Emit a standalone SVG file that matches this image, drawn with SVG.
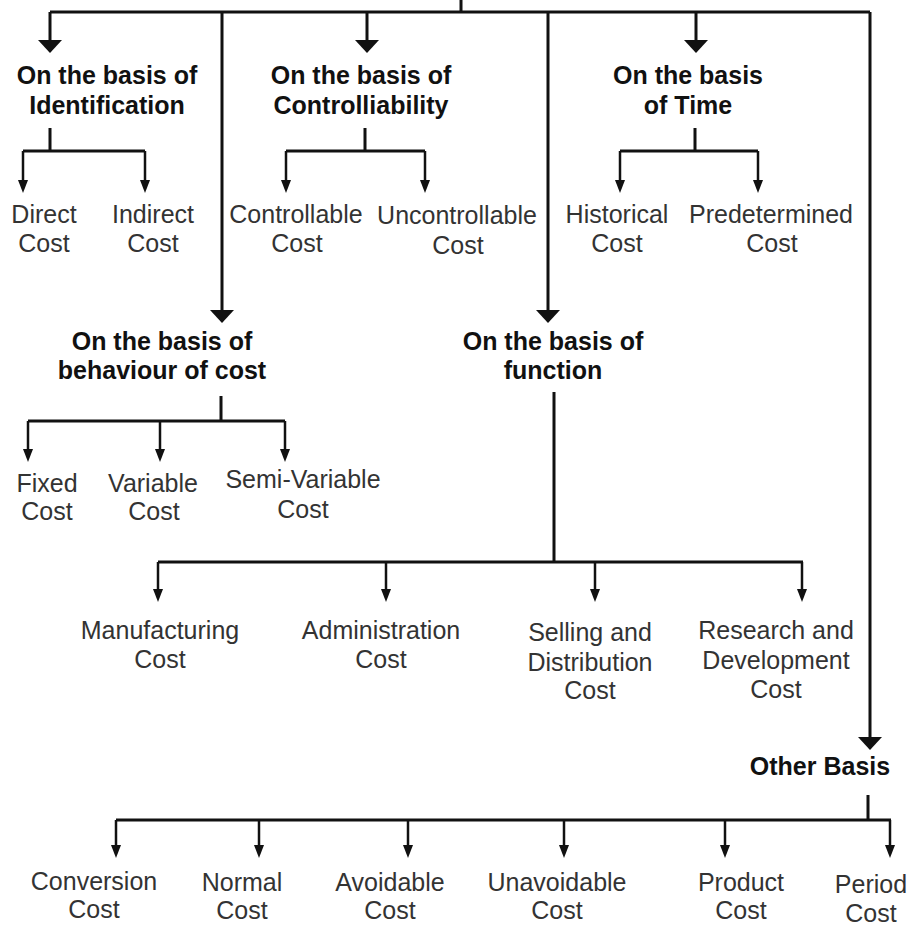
<svg xmlns="http://www.w3.org/2000/svg" width="913" height="929" viewBox="0 0 913 929">
<style>
.c{stroke:#111;stroke-width:3;fill:none}
.s{stroke:#111;stroke-width:2.5;fill:none}
.b{font-family:"Liberation Sans",Arial,sans-serif;font-size:25px;font-weight:bold;fill:#111;text-anchor:middle}
.r{font-family:"Liberation Sans",Arial,sans-serif;font-size:25px;fill:#333;text-anchor:middle}
</style>
<defs>
<marker id="big" markerUnits="userSpaceOnUse" viewBox="0 -12 13 24" markerWidth="13" markerHeight="24" refX="5" refY="0" orient="auto"><path d="M0,-12 L13,0 L0,12 Z" fill="#111"/></marker>
<marker id="sm" markerUnits="userSpaceOnUse" viewBox="0 -5 13 10" markerWidth="13" markerHeight="10" refX="5" refY="0" orient="auto"><path d="M0,-5 L13,0 L0,5 Z" fill="#111"/></marker>
</defs>
<rect width="913" height="929" fill="#fff"/>
<g id="connectors">
<path class="c" d="M461,0 V12 M50,12 H870"/>
<path class="c" d="M50,12 V45" marker-end="url(#big)"/>
<path class="c" d="M367,12 V45" marker-end="url(#big)"/>
<path class="c" d="M696,12 V45" marker-end="url(#big)"/>
<path class="c" d="M222,12 V315" marker-end="url(#big)"/>
<path class="c" d="M548,12 V315" marker-end="url(#big)"/>
<path class="c" d="M870,12 V742" marker-end="url(#big)"/>
<path class="c" d="M50,128 V151 M23,151 H145"/>
<path class="s" d="M23,151 V185" marker-end="url(#sm)"/>
<path class="s" d="M145,151 V185" marker-end="url(#sm)"/>
<path class="c" d="M365,128 V151 M286,151 H425"/>
<path class="s" d="M286,151 V185" marker-end="url(#sm)"/>
<path class="s" d="M425,151 V185" marker-end="url(#sm)"/>
<path class="c" d="M695,128 V151 M620,151 H758"/>
<path class="s" d="M620,151 V185" marker-end="url(#sm)"/>
<path class="s" d="M758,151 V185" marker-end="url(#sm)"/>
<path class="c" d="M221,396 V421 M28,421 H285"/>
<path class="s" d="M28,421 V454" marker-end="url(#sm)"/>
<path class="s" d="M160,421 V454" marker-end="url(#sm)"/>
<path class="s" d="M285,421 V454" marker-end="url(#sm)"/>
<path class="c" d="M554,392 V562 M158,562 H803"/>
<path class="s" d="M158,562 V594" marker-end="url(#sm)"/>
<path class="s" d="M386,562 V594" marker-end="url(#sm)"/>
<path class="s" d="M595,562 V594" marker-end="url(#sm)"/>
<path class="s" d="M802,562 V594" marker-end="url(#sm)"/>
<path class="c" d="M868,795 V820 M116,820 H891"/>
<path class="s" d="M116,820 V850" marker-end="url(#sm)"/>
<path class="s" d="M259,820 V850" marker-end="url(#sm)"/>
<path class="s" d="M408,820 V850" marker-end="url(#sm)"/>
<path class="s" d="M564,820 V850" marker-end="url(#sm)"/>
<path class="s" d="M725,820 V850" marker-end="url(#sm)"/>
<path class="s" d="M890,820 V850" marker-end="url(#sm)"/>
</g>
<g id="identification"><text class="b" x="107" y="84">On the basis of</text><text class="b" x="107" y="114">Identification</text></g>
<g id="controllability"><text class="b" x="361" y="84">On the basis of</text><text class="b" x="361" y="114">Controlliability</text></g>
<g id="time"><text class="b" x="688" y="84">On the basis</text><text class="b" x="688" y="114">of Time</text></g>
<g id="direct"><text class="r" x="44" y="223">Direct</text><text class="r" x="44" y="252">Cost</text></g>
<g id="indirect"><text class="r" x="153" y="223">Indirect</text><text class="r" x="153" y="252">Cost</text></g>
<g id="controllable"><text class="r" x="296" y="223">Controllable</text><text class="r" x="297" y="252">Cost</text></g>
<g id="uncontrollable"><text class="r" x="457" y="224">Uncontrollable</text><text class="r" x="458" y="254">Cost</text></g>
<g id="historical"><text class="r" x="617" y="223">Historical</text><text class="r" x="617" y="252">Cost</text></g>
<g id="predetermined"><text class="r" x="771" y="223">Predetermined</text><text class="r" x="772" y="252">Cost</text></g>
<g id="behaviour"><text class="b" x="162" y="350">On the basis of</text><text class="b" x="162" y="379">behaviour of cost</text></g>
<g id="function"><text class="b" x="553" y="350">On the basis of</text><text class="b" x="553" y="379">function</text></g>
<g id="fixed"><text class="r" x="47" y="492">Fixed</text><text class="r" x="47" y="520">Cost</text></g>
<g id="variable"><text class="r" x="153" y="492">Variable</text><text class="r" x="154" y="520">Cost</text></g>
<g id="semivariable"><text class="r" x="303" y="488">Semi-Variable</text><text class="r" x="303" y="518">Cost</text></g>
<g id="manufacturing"><text class="r" x="160" y="639">Manufacturing</text><text class="r" x="160" y="668">Cost</text></g>
<g id="administration"><text class="r" x="381" y="639">Administration</text><text class="r" x="381" y="668">Cost</text></g>
<g id="selling"><text class="r" x="590" y="641">Selling and</text><text class="r" x="590" y="671">Distribution</text><text class="r" x="590" y="699">Cost</text></g>
<g id="research"><text class="r" x="776" y="639">Research and</text><text class="r" x="776" y="669">Development</text><text class="r" x="776" y="698">Cost</text></g>
<g id="other"><text class="b" x="820" y="775">Other Basis</text></g>
<g id="conversion"><text class="r" x="94" y="890">Conversion</text><text class="r" x="94" y="918">Cost</text></g>
<g id="normal"><text class="r" x="242" y="891">Normal</text><text class="r" x="242" y="919">Cost</text></g>
<g id="avoidable"><text class="r" x="390" y="891">Avoidable</text><text class="r" x="390" y="919">Cost</text></g>
<g id="unavoidable"><text class="r" x="557" y="891">Unavoidable</text><text class="r" x="557" y="919">Cost</text></g>
<g id="product"><text class="r" x="741" y="891">Product</text><text class="r" x="741" y="919">Cost</text></g>
<g id="period"><text class="r" x="871" y="893">Period</text><text class="r" x="871" y="922">Cost</text></g>
</svg>
